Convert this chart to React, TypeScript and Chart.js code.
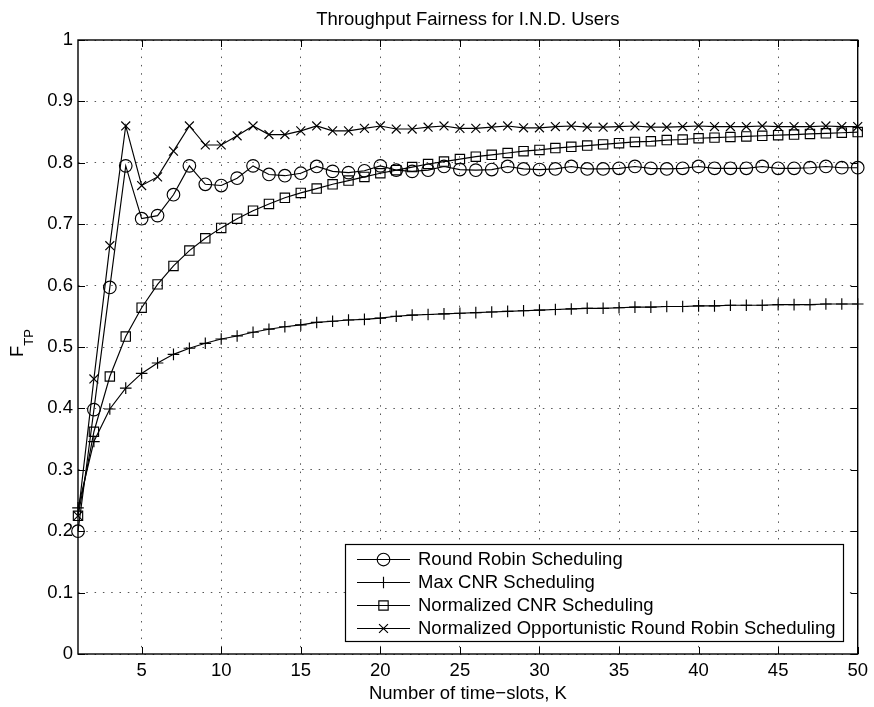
import React, { useEffect, useRef } from "react";
import { Chart, registerables } from "chart.js";
import { drawPoint } from "chart.js/helpers";

Chart.register(...registerables);

const titleText = "Throughput Fairness for I.N.D. Users";
const xTitle = "Number of time\u2212slots, K";
const yTitleMain = "F";
const yTitleSub = "TP";

const kValues = [
  1, 2, 3, 4, 5, 6, 7, 8, 9, 10, 11, 12, 13, 14, 15, 16, 17, 18, 19, 20, 21, 22, 23, 24, 25,
  26, 27, 28, 29, 30, 31, 32, 33, 34, 35, 36, 37, 38, 39, 40, 41, 42, 43, 44, 45, 46, 47, 48, 49, 50,
];

const roundRobin = [
  0.2, 0.398, 0.597, 0.795, 0.709, 0.714, 0.748, 0.795, 0.765, 0.763,
  0.775, 0.795, 0.781, 0.779, 0.783, 0.794, 0.786, 0.784, 0.787, 0.795,
  0.788, 0.786, 0.788, 0.794, 0.789, 0.788, 0.789, 0.794, 0.79, 0.789,
  0.79, 0.794, 0.79, 0.79, 0.791, 0.794, 0.791, 0.79, 0.791, 0.794,
  0.791, 0.791, 0.791, 0.794, 0.791, 0.791, 0.792, 0.794, 0.792, 0.792,
];

const maxCnr = [
  0.238, 0.346, 0.399, 0.433, 0.457, 0.474, 0.488, 0.498, 0.506, 0.513,
  0.518, 0.524, 0.529, 0.533, 0.536, 0.54, 0.542, 0.544, 0.545, 0.547,
  0.55, 0.552, 0.553, 0.554, 0.555, 0.556, 0.557, 0.558, 0.559, 0.56,
  0.561, 0.562, 0.563, 0.563, 0.564, 0.565, 0.565, 0.566, 0.566, 0.567,
  0.567, 0.568, 0.568, 0.568, 0.569, 0.569, 0.569, 0.57, 0.57, 0.57,
];

const normCnr = [
  0.225, 0.362, 0.452, 0.517, 0.564, 0.602, 0.632, 0.657, 0.677, 0.694,
  0.709, 0.722, 0.733, 0.743, 0.751, 0.758, 0.765, 0.771, 0.777, 0.783,
  0.788, 0.793, 0.798, 0.802, 0.806, 0.81, 0.813, 0.816, 0.819, 0.821,
  0.824, 0.826, 0.828, 0.83, 0.832, 0.834, 0.835, 0.837, 0.838, 0.84,
  0.841, 0.842, 0.843, 0.844, 0.845, 0.846, 0.847, 0.848, 0.849, 0.85,
];

const norr = [
  0.225, 0.448, 0.665, 0.86, 0.763, 0.777, 0.819, 0.86, 0.829, 0.829,
  0.844, 0.86, 0.846, 0.846, 0.852, 0.86, 0.852, 0.852, 0.856, 0.86,
  0.855, 0.855, 0.858, 0.86, 0.856, 0.856, 0.858, 0.86, 0.857, 0.857,
  0.859, 0.86, 0.858, 0.858, 0.859, 0.86, 0.858, 0.858, 0.859, 0.86,
  0.859, 0.859, 0.859, 0.86, 0.859, 0.859, 0.859, 0.86, 0.859, 0.859,
];

const seriesNames = [
  "Round Robin Scheduling",
  "Max CNR Scheduling",
  "Normalized CNR Scheduling",
  "Normalized Opportunistic Round Robin Scheduling",
];
const seriesValues = [roundRobin, maxCnr, normCnr, norr];
const seriesStyles = ["circle", "cross", "rect", "crossRot"];
const seriesRadius = [6.3, 5.8, 6.6, 6.3];

const xTicks = [5, 10, 15, 20, 25, 30, 35, 40, 45, 50];
const yTicks = [0, 0.1, 0.2, 0.3, 0.4, 0.5, 0.6, 0.7, 0.8, 0.9, 1];

const FONT_FAMILY = '"Liberation Sans", Arial, Helvetica, sans-serif';
const FS = 18.5;
const LW = 1.15;

const overlayPlugin = {
  id: "overlay",
  afterDraw(chart: any) {
    const { ctx, chartArea: a } = chart;
    const xs = chart.scales.x;
    const ys = chart.scales.y;
    ctx.save();
    ctx.strokeStyle = "#000";
    ctx.lineWidth = 1;
    ctx.setLineDash([]);
    ctx.beginPath();
    const tl = 7;
    for (const v of xTicks) {
      const px = Math.round(xs.getPixelForValue(v)) + 0.5;
      ctx.moveTo(px, a.bottom);
      ctx.lineTo(px, a.bottom - tl);
      ctx.moveTo(px, a.top);
      ctx.lineTo(px, a.top + tl);
    }
    for (const v of yTicks) {
      const py = Math.round(ys.getPixelForValue(v)) + 0.5;
      ctx.moveTo(a.left, py);
      ctx.lineTo(a.left + tl, py);
      ctx.moveTo(a.right, py);
      ctx.lineTo(a.right - tl, py);
    }
    ctx.stroke();

    ctx.lineWidth = 1.4;
    ctx.strokeRect(a.left, a.top, a.right - a.left, a.bottom - a.top);

    // title
    ctx.fillStyle = "#000";
    ctx.font = `${FS}px ${FONT_FAMILY}`;
    ctx.textAlign = "center";
    ctx.textBaseline = "middle";
    ctx.fillText(titleText, (a.left + a.right) / 2, 20);

    // y title
    ctx.save();
    ctx.translate(23, 343);
    ctx.rotate(-Math.PI / 2);
    ctx.textAlign = "left";
    ctx.textBaseline = "alphabetic";
    const mainFont = `${FS}px ${FONT_FAMILY}`;
    const subFont = `13px ${FONT_FAMILY}`;
    ctx.font = mainFont;
    const wF = ctx.measureText(yTitleMain).width;
    ctx.font = subFont;
    const wT = ctx.measureText(yTitleSub).width;
    const start = -(wF + wT) / 2;
    ctx.font = mainFont;
    ctx.fillText(yTitleMain, start, 0);
    ctx.font = subFont;
    ctx.fillText(yTitleSub, start + wF, 9.5);
    ctx.restore();

    // legend
    const lx0 = 345;
    const lx1 = 843;
    const ly0 = 544;
    const ly1 = 641;
    ctx.fillStyle = "#fff";
    ctx.fillRect(lx0, ly0, lx1 - lx0, ly1 - ly0);
    ctx.lineWidth = 1.2;
    ctx.strokeStyle = "#000";
    ctx.strokeRect(lx0 + 0.5, ly0 + 0.5, lx1 - lx0, ly1 - ly0);
    const rows = [559, 582, 605, 628];
    seriesNames.forEach((name, i) => {
      const yy = rows[i] + 0.5;
      ctx.strokeStyle = "#000";
      ctx.lineWidth = LW;
      ctx.beginPath();
      ctx.moveTo(357, yy);
      ctx.lineTo(410, yy);
      ctx.stroke();
      ctx.fillStyle = "rgba(0,0,0,0)";
      drawPoint(ctx, { pointStyle: seriesStyles[i], radius: seriesRadius[i], rotation: 0, borderWidth: LW } as any, 383.5, yy);
      ctx.fillStyle = "#000";
      ctx.font = `${FS}px ${FONT_FAMILY}`;
      ctx.textAlign = "left";
      ctx.textBaseline = "middle";
      ctx.fillText(name, 418, rows[i] + 1);
    });
    ctx.restore();
  },
};

export default function App() {
  const canvasRef = useRef<HTMLCanvasElement | null>(null);

  useEffect(() => {
    const canvas = canvasRef.current;
    if (!canvas) return;
    const tickFont = { family: FONT_FAMILY, size: FS };
    const datasets = seriesNames.map((name, i) => ({
      label: name,
      data: kValues.map((k, j) => ({ x: k, y: seriesValues[i][j] })),
      borderColor: "#000",
      backgroundColor: "rgba(0,0,0,0)",
      borderWidth: LW,
      pointStyle: seriesStyles[i],
      pointRadius: seriesRadius[i],
      pointBorderWidth: LW,
      pointBorderColor: "#000",
      pointBackgroundColor: "rgba(0,0,0,0)",
      tension: 0,
      fill: false,
      clip: false,
    }));
    const chart = new Chart(canvas, {
      type: "line",
      data: { datasets } as any,
      options: {
        animation: false,
        responsive: false,
        devicePixelRatio: 1,
        events: [],
        layout: { padding: { top: 40, right: 14, bottom: 0, left: 0 } },
        plugins: {
          legend: { display: false },
          title: { display: false },
          tooltip: { enabled: false },
        },
        scales: {
          x: {
            type: "linear",
            min: 1,
            max: 50,
            afterBuildTicks: (s: any) => {
              s.ticks = xTicks.map((v) => ({ value: v }));
            },
            afterFit: (s: any) => {
              s.height = 53;
            },
            grid: { color: "#555", lineWidth: 1, drawTicks: false },
            border: { display: false, dash: [1.5, 6.8] },
            ticks: {
              padding: 6,
              color: "#000",
              font: tickFont,
              maxRotation: 0,
              autoSkip: false,
            },
            title: {
              display: true,
              text: xTitle,
              color: "#000",
              font: tickFont,
              padding: { top: 0, bottom: 2 },
            },
          },
          y: {
            type: "linear",
            min: 0,
            max: 1,
            afterBuildTicks: (s: any) => {
              s.ticks = yTicks.map((v) => ({ value: v }));
            },
            afterFit: (s: any) => {
              s.width = 78;
            },
            grid: { color: "#555", lineWidth: 1, drawTicks: false },
            border: { display: false, dash: [1.5, 6.8] },
            ticks: {
              padding: 5,
              color: "#000",
              font: tickFont,
              autoSkip: false,
              callback: (v: any) => String(Math.round(Number(v) * 10) / 10),
            },
          },
        },
      },
      plugins: [overlayPlugin],
    } as any);
    return () => chart.destroy();
  }, []);

  return (
    <div style={{ position: "absolute", left: 0, top: 0, width: 874, height: 707, background: "#fff" }}>
      <canvas ref={canvasRef} width={874} height={707} style={{ display: "block", width: 874, height: 707 }} />
    </div>
  );
}
